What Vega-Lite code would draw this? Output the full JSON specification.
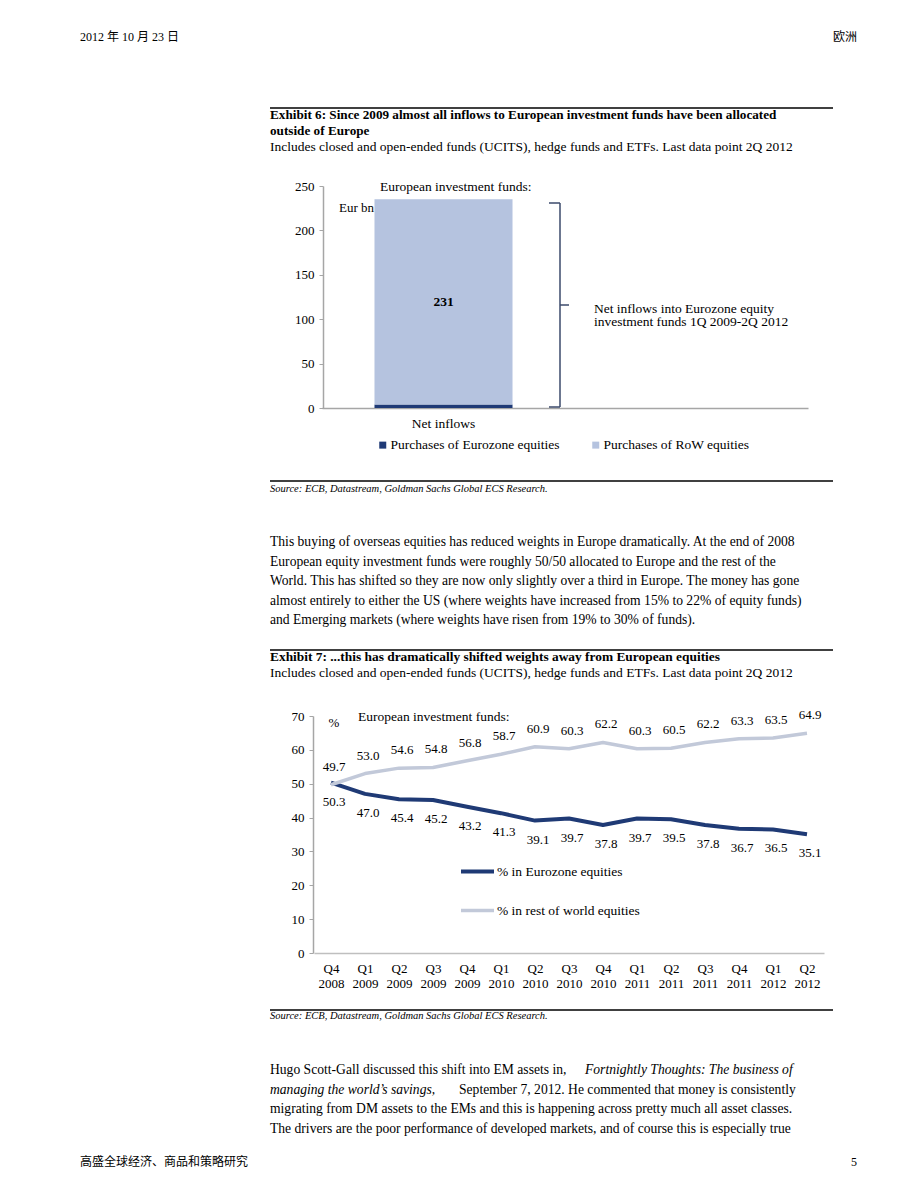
{
  "$schema": "https://vega.github.io/schema/vega-lite/v6.json",
  "background": "white",
  "padding": {"left": 80, "top": 0, "right": 63, "bottom": 0},
  "autosize": {"type": "pad"},
  "spacing": 0,
  "bounds": "flush",
  "resolve": {"scale": {"color": "independent", "strokeWidth": "independent"}, "legend": {"color": "independent", "strokeWidth": "independent"}},
  "config": {
    "view": {"stroke": null},
    "font": "Liberation Serif",
    "text": {"font": "Liberation Serif", "fontSize": 13.5, "color": "#000"},
    "axis": {"labelFont": "Liberation Serif", "labelColor": "#000", "grid": false},
    "legend": {"labelFont": "Liberation Serif", "labelColor": "#000", "labelLimit": 400}
  },
  "vconcat": [
    {
      "width": 563,
      "height": 186,
      "data": {"values": [{}]},
      "layer": [
        {"mark": {"type": "text", "align": "left", "baseline": "middle", "fontSize": 12, "font": "Liberation Serif, Noto Sans CJK SC"},
         "encoding": {"x": {"value": -190}, "y": {"value": 37}, "text": {"value": "2012 年 10 月 23 日"}}},
        {"mark": {"type": "text", "align": "right", "baseline": "middle", "fontSize": 12, "font": "Noto Sans CJK SC"},
         "encoding": {"x": {"value": 587}, "y": {"value": 37}, "text": {"value": "欧洲"}}},
        {"mark": {"type": "rule", "color": "#000", "strokeWidth": 1.5},
         "encoding": {"x": {"value": 0}, "x2": {"value": 563}, "y": {"value": 108}}},
        {"mark": {"type": "text", "align": "left", "baseline": "middle", "fontWeight": "bold", "fontSize": 13.2},
         "encoding": {"x": {"value": 0}, "y": {"value": 115}, "text": {"value": "Exhibit 6: Since 2009 almost all inflows to European investment funds have been allocated"}}},
        {"mark": {"type": "text", "align": "left", "baseline": "middle", "fontWeight": "bold", "fontSize": 13.2},
         "encoding": {"x": {"value": 0}, "y": {"value": 131}, "text": {"value": "outside of Europe"}}},
        {"mark": {"type": "text", "align": "left", "baseline": "middle", "fontSize": 13.5},
         "encoding": {"x": {"value": 0}, "y": {"value": 147}, "text": {"value": "Includes closed and open-ended funds (UCITS), hedge funds and ETFs. Last data point 2Q 2012"}}}
      ]
    },
    {
      "width": 563,
      "height": 222,
      "layer": [
        {
          "data": {"values": [
            {"category": "Net inflows", "series": "Purchases of Eurozone equities", "value": 4, "order": 1},
            {"category": "Net inflows", "series": "Purchases of RoW equities", "value": 231, "order": 2}
          ]},
          "transform": [
            {"stack": "value", "groupby": ["category"], "sort": [{"field": "order", "order": "ascending"}], "as": ["v0", "v1"]},
            {"calculate": "(datum.v0 + datum.v1) / 2", "as": "mid"}
          ],
          "layer": [
            {
              "mark": {"type": "bar"},
              "encoding": {
                "x": {"field": "category", "type": "nominal",
                      "scale": {"domain": ["Net inflows", "_"], "range": [52, 538], "paddingInner": 0.432, "paddingOuter": 0.216},
                      "axis": {"title": null, "ticks": false, "domainColor": "#a6a6a6", "domainWidth": 1.5, "labelExpr": "datum.value == '_' ? '' : datum.value", "labelFontSize": 13.5, "labelPadding": 8, "labelAngle": 0}},
                "y": {"field": "v0", "type": "quantitative",
                      "scale": {"domain": [0, 250], "nice": false},
                      "axis": {"title": null, "values": [0, 50, 100, 150, 200, 250], "offset": -53, "domainColor": "#a6a6a6", "domainWidth": 1.5, "tickColor": "#a6a6a6", "tickSize": 4, "labelFontSize": 13, "labelPadding": 5}},
                "y2": {"field": "v1"},
                "color": {"field": "series", "type": "nominal",
                          "scale": {"domain": ["Purchases of Eurozone equities", "Purchases of RoW equities"], "range": ["#1f3a76", "#b5c3df"]},
                          "legend": {"title": null, "orient": "none", "legendX": 106, "legendY": 252, "direction": "horizontal", "symbolType": "square", "symbolSize": 49, "labelFontSize": 13.5, "labelOffset": 1, "columnPadding": 29, "padding": 0}}
              }
            },
            {
              "transform": [{"filter": "datum.series == 'Purchases of RoW equities'"}],
              "mark": {"type": "text", "fontWeight": "bold", "fontSize": 13.5, "baseline": "middle"},
              "encoding": {
                "x": {"field": "category", "type": "nominal"},
                "y": {"field": "mid", "type": "quantitative"},
                "text": {"field": "value", "type": "quantitative"}
              }
            }
          ]
        },
        {
          "data": {"values": [{}]},
          "layer": [
            {"mark": {"type": "text", "align": "left", "baseline": "middle", "fontSize": 13.5},
             "encoding": {"x": {"value": 110}, "y": {"value": 1}, "text": {"value": "European investment funds:"}}},
            {"mark": {"type": "text", "align": "left", "baseline": "middle", "fontSize": 13},
             "encoding": {"x": {"value": 69}, "y": {"value": 22}, "text": {"value": "Eur bn"}}},
            {"mark": {"type": "rule", "color": "#3b4a6b", "strokeWidth": 1.5},
             "encoding": {"x": {"value": 279}, "x2": {"value": 290}, "y": {"value": 17}}},
            {"mark": {"type": "rule", "color": "#3b4a6b", "strokeWidth": 1.5},
             "encoding": {"x": {"value": 290}, "y": {"value": 17}, "y2": {"value": 221}}},
            {"mark": {"type": "rule", "color": "#3b4a6b", "strokeWidth": 1.5},
             "encoding": {"x": {"value": 279}, "x2": {"value": 290}, "y": {"value": 221}}},
            {"mark": {"type": "rule", "color": "#3b4a6b", "strokeWidth": 1.5},
             "encoding": {"x": {"value": 290}, "x2": {"value": 299}, "y": {"value": 119}}},
            {"mark": {"type": "text", "align": "left", "baseline": "top", "fontSize": 13.5, "lineBreak": "\n", "lineHeight": 13},
             "encoding": {"x": {"value": 324}, "y": {"value": 116}, "text": {"value": "Net inflows into Eurozone equity\ninvestment funds 1Q 2009-2Q 2012"}}}
          ]
        }
      ]
    },
    {
      "width": 563,
      "height": 308,
      "data": {"values": [{}]},
      "layer": [
        {"mark": {"type": "rule", "color": "#000", "strokeWidth": 1.5},
         "encoding": {"x": {"value": 0}, "x2": {"value": 563}, "y": {"value": 73}}},
        {"mark": {"type": "text", "align": "left", "baseline": "middle", "fontSize": 10.5, "fontStyle": "italic"},
         "encoding": {"x": {"value": 0}, "y": {"value": 81}, "text": {"value": "Source: ECB, Datastream, Goldman Sachs Global ECS Research."}}},
        {
          "data": {"values": [
            {"line": 1, "text": "This buying of overseas equities has reduced weights in Europe dramatically. At the end of 2008"},
            {"line": 2, "text": "European equity investment funds were roughly 50/50 allocated to Europe and the rest of the"},
            {"line": 3, "text": "World. This has shifted so they are now only slightly over a third in Europe. The money has gone"},
            {"line": 4, "text": "almost entirely to either the US (where weights have increased from 15% to 22% of equity funds)"},
            {"line": 5, "text": "and Emerging markets (where weights have risen from 19% to 30% of funds)."}
          ]},
          "mark": {"type": "text", "align": "left", "baseline": "middle", "fontSize": 13.6},
          "encoding": {
            "x": {"value": 0},
            "y": {"field": "line", "type": "ordinal", "scale": {"type": "point", "range": [134, 212.4], "padding": 0}, "axis": null},
            "text": {"field": "text"}
          }
        },
        {"mark": {"type": "rule", "color": "#000", "strokeWidth": 1.5},
         "encoding": {"x": {"value": 0}, "x2": {"value": 563}, "y": {"value": 242}}},
        {"mark": {"type": "text", "align": "left", "baseline": "middle", "fontWeight": "bold", "fontSize": 13.4},
         "encoding": {"x": {"value": 0}, "y": {"value": 249}, "text": {"value": "Exhibit 7: ...this has dramatically shifted weights away from European equities"}}},
        {"mark": {"type": "text", "align": "left", "baseline": "middle", "fontSize": 13.5},
         "encoding": {"x": {"value": 0}, "y": {"value": 265}, "text": {"value": "Includes closed and open-ended funds (UCITS), hedge funds and ETFs. Last data point 2Q 2012"}}}
      ]
    },
    {
      "width": 563,
      "height": 237,
      "layer": [
        {
          "data": {"values": [
            {"quarter": "Q4 2008", "series": "% in Eurozone equities", "value": 50.3},
            {"quarter": "Q1 2009", "series": "% in Eurozone equities", "value": 47.0},
            {"quarter": "Q2 2009", "series": "% in Eurozone equities", "value": 45.4},
            {"quarter": "Q3 2009", "series": "% in Eurozone equities", "value": 45.2},
            {"quarter": "Q4 2009", "series": "% in Eurozone equities", "value": 43.2},
            {"quarter": "Q1 2010", "series": "% in Eurozone equities", "value": 41.3},
            {"quarter": "Q2 2010", "series": "% in Eurozone equities", "value": 39.1},
            {"quarter": "Q3 2010", "series": "% in Eurozone equities", "value": 39.7},
            {"quarter": "Q4 2010", "series": "% in Eurozone equities", "value": 37.8},
            {"quarter": "Q1 2011", "series": "% in Eurozone equities", "value": 39.7},
            {"quarter": "Q2 2011", "series": "% in Eurozone equities", "value": 39.5},
            {"quarter": "Q3 2011", "series": "% in Eurozone equities", "value": 37.8},
            {"quarter": "Q4 2011", "series": "% in Eurozone equities", "value": 36.7},
            {"quarter": "Q1 2012", "series": "% in Eurozone equities", "value": 36.5},
            {"quarter": "Q2 2012", "series": "% in Eurozone equities", "value": 35.1},
            {"quarter": "Q4 2008", "series": "% in rest of world equities", "value": 49.7},
            {"quarter": "Q1 2009", "series": "% in rest of world equities", "value": 53.0},
            {"quarter": "Q2 2009", "series": "% in rest of world equities", "value": 54.6},
            {"quarter": "Q3 2009", "series": "% in rest of world equities", "value": 54.8},
            {"quarter": "Q4 2009", "series": "% in rest of world equities", "value": 56.8},
            {"quarter": "Q1 2010", "series": "% in rest of world equities", "value": 58.7},
            {"quarter": "Q2 2010", "series": "% in rest of world equities", "value": 60.9},
            {"quarter": "Q3 2010", "series": "% in rest of world equities", "value": 60.3},
            {"quarter": "Q4 2010", "series": "% in rest of world equities", "value": 62.2},
            {"quarter": "Q1 2011", "series": "% in rest of world equities", "value": 60.3},
            {"quarter": "Q2 2011", "series": "% in rest of world equities", "value": 60.5},
            {"quarter": "Q3 2011", "series": "% in rest of world equities", "value": 62.2},
            {"quarter": "Q4 2011", "series": "% in rest of world equities", "value": 63.3},
            {"quarter": "Q1 2012", "series": "% in rest of world equities", "value": 63.5},
            {"quarter": "Q2 2012", "series": "% in rest of world equities", "value": 64.9}
          ]},
          "encoding": {
            "x": {"field": "quarter", "type": "ordinal", "sort": null,
                  "scale": {"type": "point", "padding": 0.5, "range": [44, 554]},
                  "axis": {"title": null, "ticks": false, "domainColor": "#bfbfbf", "domainWidth": 1.5, "labelExpr": "split(datum.value, ' ')", "labelFontSize": 13, "labelPadding": 9, "labelAngle": 0, "labelLineHeight": 15}},
            "y": {"field": "value", "type": "quantitative",
                  "scale": {"domain": [0, 70], "nice": false},
                  "axis": {"title": null, "values": [0, 10, 20, 30, 40, 50, 60, 70], "offset": -43, "domainColor": "#a6a6a6", "domainWidth": 1.5, "tickColor": "#a6a6a6", "tickSize": 4, "labelFontSize": 13, "labelPadding": 5}}
          },
          "layer": [
            {
              "mark": {"type": "line", "strokeJoin": "round"},
              "encoding": {
                "color": {"field": "series", "type": "nominal",
                          "scale": {"domain": ["% in Eurozone equities", "% in rest of world equities"], "range": ["#1f3a75", "#c2c9d9"]},
                          "legend": {"title": null, "orient": "none", "legendX": 189, "legendY": 137, "direction": "vertical", "symbolType": "stroke", "symbolSize": 1089, "symbolStrokeWidth": 3.5, "labelFontSize": 13.5, "labelOffset": 1, "rowPadding": 12, "padding": 0}},
                "strokeWidth": {"field": "series", "type": "nominal",
                                "scale": {"domain": ["% in Eurozone equities", "% in rest of world equities"], "range": [4, 3.5]},
                                "legend": null}
              }
            },
            {
              "transform": [{"filter": "datum.series == '% in rest of world equities'"}],
              "mark": {"type": "text", "baseline": "middle", "fontSize": 13, "dy": -18, "dx": 3},
              "encoding": {"text": {"field": "value", "type": "quantitative", "format": ".1f"}}
            },
            {
              "transform": [{"filter": "datum.series == '% in Eurozone equities'"}],
              "mark": {"type": "text", "baseline": "middle", "fontSize": 13, "dy": 19, "dx": 3},
              "encoding": {"text": {"field": "value", "type": "quantitative", "format": ".1f"}}
            }
          ]
        },
        {
          "data": {"values": [{}]},
          "layer": [
            {"mark": {"type": "text", "align": "center", "baseline": "middle", "fontSize": 13},
             "encoding": {"x": {"value": 64}, "y": {"value": 7}, "text": {"value": "%"}}},
            {"mark": {"type": "text", "align": "left", "baseline": "middle", "fontSize": 13.5},
             "encoding": {"x": {"value": 88}, "y": {"value": 1}, "text": {"value": "European investment funds:"}}}
          ]
        }
      ]
    },
    {
      "width": 563,
      "height": 238,
      "data": {"values": [{}]},
      "layer": [
        {"mark": {"type": "rule", "color": "#000", "strokeWidth": 1.5},
         "encoding": {"x": {"value": 0}, "x2": {"value": 563}, "y": {"value": 57}}},
        {"mark": {"type": "text", "align": "left", "baseline": "middle", "fontSize": 10.5, "fontStyle": "italic"},
         "encoding": {"x": {"value": 0}, "y": {"value": 63}, "text": {"value": "Source: ECB, Datastream, Goldman Sachs Global ECS Research."}}},
        {
          "data": {"values": [
            {"line": 1, "text": "Hugo Scott-Gall discussed this shift into EM assets in,"},
            {"line": 3, "text": "migrating from DM assets to the EMs and this is happening across pretty much all asset classes."},
            {"line": 4, "text": "The drivers are the poor performance of developed markets, and of course this is especially true"}
          ]},
          "mark": {"type": "text", "align": "left", "baseline": "middle", "fontSize": 13.6},
          "encoding": {
            "x": {"value": 0},
            "y": {"field": "line", "type": "ordinal", "scale": {"type": "point", "domain": [1, 2, 3, 4], "range": [117, 175.5], "padding": 0}, "axis": null},
            "text": {"field": "text"}
          }
        },
        {"mark": {"type": "text", "align": "left", "baseline": "middle", "fontSize": 13.6, "fontStyle": "italic"},
         "encoding": {"x": {"value": 315}, "y": {"value": 117}, "text": {"value": "Fortnightly Thoughts: The business of"}}},
        {"mark": {"type": "text", "align": "left", "baseline": "middle", "fontSize": 13.6, "fontStyle": "italic"},
         "encoding": {"x": {"value": 0}, "y": {"value": 136.5}, "text": {"value": "managing the world’s savings,"}}},
        {"mark": {"type": "text", "align": "left", "baseline": "middle", "fontSize": 13.6},
         "encoding": {"x": {"value": 189}, "y": {"value": 136.5}, "text": {"value": "September 7, 2012. He commented that money is consistently"}}},
        {"mark": {"type": "text", "align": "left", "baseline": "middle", "fontSize": 12, "font": "Noto Sans CJK SC"},
         "encoding": {"x": {"value": -190}, "y": {"value": 209}, "text": {"value": "高盛全球经济、商品和策略研究"}}},
        {"mark": {"type": "text", "align": "right", "baseline": "middle", "fontSize": 12},
         "encoding": {"x": {"value": 587}, "y": {"value": 209}, "text": {"value": "5"}}}
      ]
    }
  ]
}
